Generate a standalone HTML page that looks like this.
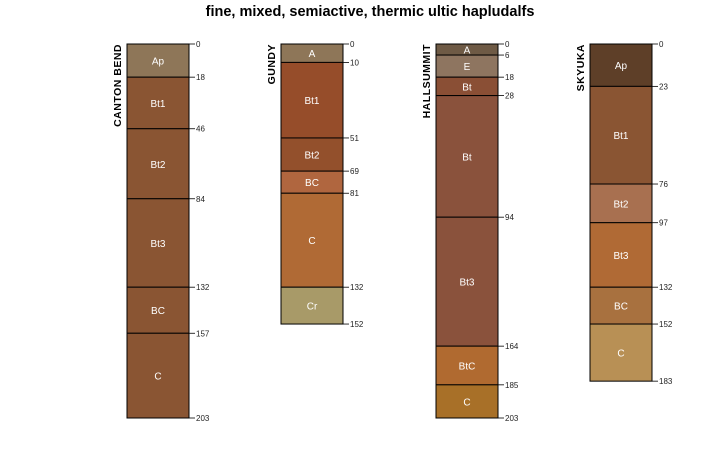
<!DOCTYPE html>
<html><head><meta charset="utf-8"><style>
body{margin:0;background:#fff;width:725px;height:450px;overflow:hidden}
svg{display:block;font-family:"Liberation Sans",Arial,sans-serif}
</style></head><body>
<svg id="chart" width="725" height="450">
<text x="370" y="16" text-anchor="middle" font-size="14.5" font-weight="bold">fine, mixed, semiactive, thermic ultic hapludalfs</text>
<g id="plot"></g>
</svg>
<script>
const profileNames = ["CANTON BEND","GUNDY","HALLSUMMIT","SKYUKA"];
const profileX = [127,281,436,590];
const horizonNames = [
 ["Ap","Bt1","Bt2","Bt3","BC","C"],
 ["A","Bt1","Bt2","BC","C","Cr"],
 ["A","E","Bt","Bt","Bt3","BtC","C"],
 ["Ap","Bt1","Bt2","Bt3","BC","C"]];
const horizonDepths = [
 [0,18,46,84,132,157,203],
 [0,10,51,69,81,132,152],
 [0,6,18,28,94,164,185,203],
 [0,23,76,97,132,152,183]];
const horizonColors = [
 ["#8e7658","#8a5533","#8a5533","#8a5533","#8a5533","#8a5533"],
 ["#8e7658","#964d2a","#93502c","#b0663f","#b06a35","#a89a68"],
 ["#6e5a45","#8e7560","#8a4f35","#8a523c","#8a523c","#b06a30","#a87028"],
 ["#5e3f28","#8a5533","#a87050","#b06a35","#a8713f","#b89055"]];
const top0=44, scale=374/203, w=62;
const y=d=>top0+d*scale;
const g=document.getElementById('plot');
const NS="http://www.w3.org/2000/svg";
function mk(t,a){const e=document.createElementNS(NS,t);for(const k in a)e.setAttribute(k,a[k]);g.appendChild(e);return e;}
profileNames.forEach((name,p)=>{
 const x=profileX[p], d=horizonDepths[p];
 const lab=mk('text',{x:0,y:0,transform:`translate(${x-6},${top0}) rotate(-90)`,'text-anchor':'end','font-size':10.5,'font-weight':'bold','letter-spacing':'0.5'});
 lab.textContent=name;
 
 
 for(let i=0;i<horizonNames[p].length;i++){
  const r=mk('rect',{x:x,y:y(d[i]),width:w,height:y(d[i+1])-y(d[i]),fill:horizonColors[p][i],stroke:'#000','stroke-width':1});
  
  
  const t=mk('text',{x:x+w/2,y:(y(d[i])+y(d[i+1]))/2+4,'text-anchor':'middle','font-size':10,fill:'#fff'});
  t.textContent=horizonNames[p][i];
  
  
 }
 let prev=-99;
 d.forEach((v,i)=>{
  let ly=y(v); if(ly-prev<9) ly=prev+9; prev=ly;
  const l=mk('line',{x1:x+w,y1:y(v),x2:x+w+6,y2:ly,stroke:'#000','stroke-width':0.8});
  
  
  const t=mk('text',{x:x+w+7,y:ly+3,'font-size':8,fill:'#222'});
  t.textContent=v;
  
  
 });
});
</script>
</body></html>
